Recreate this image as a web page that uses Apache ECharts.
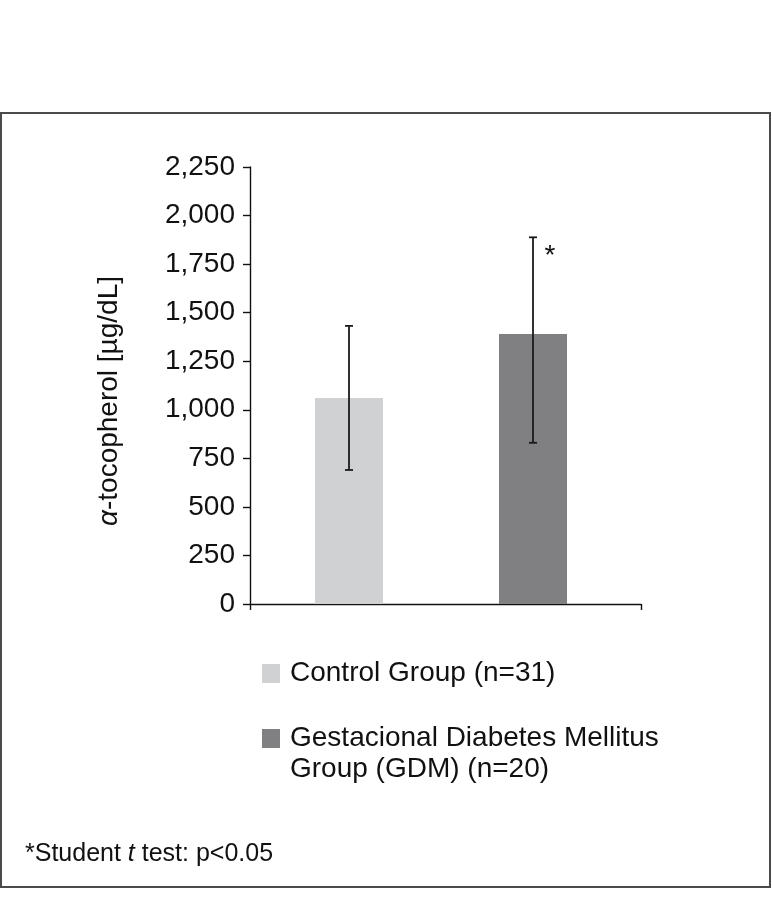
<!DOCTYPE html>
<html>
<head>
<meta charset="utf-8">
<script src="https://cdn.jsdelivr.net/npm/echarts@6/dist/echarts.min.js"></script>
<style>
html,body{margin:0;padding:0;background:#fff;}
#chart{width:772px;height:908px;}
</style>
</head>
<body>
<div id="chart"></div>
<script>
// ---- data ----
var categories = ['Control Group (n=31)', 'Gestacional Diabetes Mellitus Group (GDM) (n=20)'];
var means = [1060, 1390];
var errUpper = [1432, 1888];
var errLower = [690, 830];
var sigMarks = ['', '*'];
var yMin = 0, yMax = 2250, yStep = 250;
var barColors = ['#d0d1d3', '#808082'];
var legendLines = [['Control Group (n=31)'], ['Gestacional Diabetes Mellitus', 'Group (GDM) (n=20)']];
var yTitle = '{i|\u03b1}-tocopherol [\u00b5g/dL]';
var footnote = '*Student {i|t} test: p<0.05';

var FONT = '"Liberation Sans", Arial, sans-serif';
var chart = echarts.init(document.getElementById('chart'), null, {renderer: 'canvas'});

var barSeries = categories.map(function (name, i) {
  return {
    name: name,
    type: 'bar',
    xAxisIndex: 1,
    yAxisIndex: 1,
    barWidth: 68,
    barGap: '-100%',
    itemStyle: {color: barColors[i]},
    data: categories.map(function (c, j) { return j === i ? means[j] : '-'; }),
    silent: true
  };
});

var errData = categories.map(function (c, i) { return [i, errLower[i], errUpper[i]]; });

var option = {
  backgroundColor: '#ffffff',
  animation: false,
  grid: [
    {left: 250, right: 131, top: 167, bottom: 304},
    {left: 257, right: 147, top: 167, bottom: 304}
  ],
  xAxis: [
    {
      type: 'value', gridIndex: 0, min: 0, max: 1, interval: 1,
      axisLine: {show: true, lineStyle: {color: '#111', width: 1.4}},
      axisTick: {show: true, length: 6, lineStyle: {color: '#111', width: 1.4}},
      axisLabel: {show: false},
      splitLine: {show: false}
    },
    {
      type: 'category', gridIndex: 1, data: categories, show: false
    }
  ],
  yAxis: [
    {
      type: 'value', gridIndex: 0, min: yMin, max: yMax, interval: yStep,
      name: yTitle,
      nameLocation: 'middle',
      nameRotate: 90,
      nameGap: 127,
      nameTextStyle: {
        fontFamily: FONT, fontSize: 28, color: '#111',
        padding: [0, 31, 0, 0],
        rich: {i: {fontStyle: 'italic', fontFamily: FONT, fontSize: 28, color: '#111'}}
      },
      axisLine: {show: true, lineStyle: {color: '#111', width: 1.4}},
      axisTick: {show: true, length: 7, lineStyle: {color: '#111', width: 1.4}},
      axisLabel: {
        margin: 15, fontFamily: FONT, fontSize: 28, color: '#111',
        formatter: function (v) { return v.toLocaleString('en-US'); }
      },
      splitLine: {show: false}
    },
    {
      type: 'value', gridIndex: 1, min: yMin, max: yMax, interval: yStep, show: false
    }
  ],
  legend: {
    orient: 'vertical',
    left: 257,
    top: 658,
    padding: 0,
    itemWidth: 0,
    itemHeight: 0,
    itemGap: 34,
    textGap: 0,
    selectedMode: false,
    icon: 'rect',
    data: categories,
    formatter: function (name) {
      var i = categories.indexOf(name);
      var lines = legendLines[i];
      var s = '{b' + i + '|}{g|}{t|' + lines[0] + '}';
      for (var k = 1; k < lines.length; k++) {
        s += '\n{sp|}{t|' + lines[k] + '}';
      }
      return s;
    },
    textStyle: {
      fontFamily: FONT, fontSize: 28, color: '#111', lineHeight: 31,
      rich: {
        b0: {width: 18, height: 19, backgroundColor: barColors[0]},
        b1: {width: 18, height: 19, backgroundColor: barColors[1]},
        g: {width: 10},
        sp: {width: 28},
        t: {fontFamily: FONT, fontSize: 28, color: '#111', lineHeight: 31}
      }
    }
  },
  graphic: [
    {
      type: 'rect', z: -1, silent: true,
      shape: {x: 1, y: 113, width: 769, height: 774},
      style: {fill: 'none', stroke: '#4a4a4a', lineWidth: 2}
    },
    {
      type: 'text', left: 25, top: 842, silent: true,
      style: {
        text: footnote,
        fontFamily: FONT, fontSize: 25, fill: '#111',
        rich: {i: {fontStyle: 'italic', fontFamily: FONT, fontSize: 25, fill: '#111'}}
      }
    }
  ],
  series: barSeries.concat([{
    type: 'custom',
    name: 'err',
    xAxisIndex: 1,
    yAxisIndex: 1,
    silent: true,
    z: 10,
    encode: {x: 0, y: [1, 2]},
    data: errData,
    renderItem: function (params, api) {
      var x = api.value(0);
      var lo = api.coord([x, api.value(1)]);
      var hi = api.coord([x, api.value(2)]);
      var cap = 4;
      var st = {stroke: '#1a1a1a', lineWidth: 1.8};
      var children = [
        {type: 'line', shape: {x1: hi[0], y1: hi[1], x2: lo[0], y2: lo[1]}, style: st},
        {type: 'line', shape: {x1: hi[0] - cap, y1: hi[1], x2: hi[0] + cap, y2: hi[1]}, style: st},
        {type: 'line', shape: {x1: lo[0] - cap, y1: lo[1], x2: lo[0] + cap, y2: lo[1]}, style: st}
      ];
      var m = sigMarks[params.dataIndex];
      if (m) {
        children.push({
          type: 'text',
          style: {
            text: m, x: hi[0] + 17, y: hi[1] + 19,
            align: 'center', verticalAlign: 'middle',
            fontFamily: FONT, fontSize: 28, fill: '#111'
          }
        });
      }
      return {type: 'group', children: children};
    }
  }])
};
chart.setOption(option);
</script>
</body>
</html>
